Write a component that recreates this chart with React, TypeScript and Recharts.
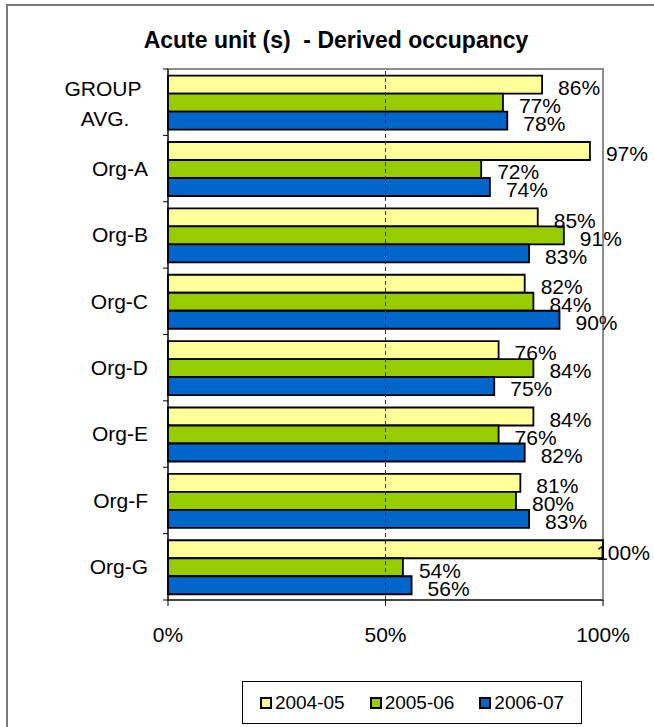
import { BarChart, Bar, XAxis, YAxis, ReferenceLine, ReferenceArea, LabelList } from "recharts";

const CATEGORIES = ["GROUP AVG.", "Org-A", "Org-B", "Org-C", "Org-D", "Org-E", "Org-F", "Org-G"];
const Y2004 = [86, 97, 85, 82, 76, 84, 81, 100];
const Y2005 = [77, 72, 91, 84, 84, 76, 80, 54];
const Y2006 = [78, 74, 83, 90, 75, 82, 83, 56];
const SERIES = [
    { key: "y2004", name: "2004-05", color: "#FFFF99" },
    { key: "y2005", name: "2005-06", color: "#99CC00" },
    { key: "y2006", name: "2006-07", color: "#0066CC" },
];
const X_TICKS = [0, 50, 100];

const data = CATEGORIES.map((name, i) => ({
    name,
    y2004: Y2004[i],
    y2005: Y2005[i],
    y2006: Y2006[i],
}));

const FONT = "'Liberation Sans', Arial, sans-serif";
const FS = 21;

function CategoryTick(props: any) {
    const { x, y, payload, index, visibleTicksCount } = props;
    const axisX = x + 20;
    const half = payload && payload.offset ? payload.offset : 33;
    const label: string = payload.value;
    const isLast = index === (visibleTicksCount ?? CATEGORIES.length) - 1;
    return (
        <g>
            <line x1={axisX - 5} y1={y - half} x2={axisX} y2={y - half} stroke="#000" strokeWidth={1} />
            {isLast && <line x1={axisX - 5} y1={y + half} x2={axisX} y2={y + half} stroke="#000" strokeWidth={1} />}
            {label === "GROUP AVG." ? (
                <g>
                    <text x={axisX - 65} y={y - 14} dy="0.35em" textAnchor="middle" fontSize={FS} fill="#000" fontFamily={FONT}>GROUP</text>
                    <text x={axisX - 63} y={y + 16} dy="0.35em" textAnchor="middle" fontSize={FS} fill="#000" fontFamily={FONT}>AVG.</text>
                </g>
            ) : (
                <text x={x} y={y} dy="0.35em" textAnchor="end" fontSize={FS} fill="#000" fontFamily={FONT}>{label}</text>
            )}
        </g>
    );
}

function ValueLabel(props: any) {
    const vb = props.viewBox || {};
    const bx = props.x ?? vb.x;
    const by = props.y ?? vb.y;
    const bw = props.width ?? vb.width;
    const bh = props.height ?? vb.height;
    const text = `${props.value}%`;
    const w = (text.length - 1) * 11.7 + 18.7;
    const lx = Math.min(bx + bw + 16, 650 - w);
    return (
        <text x={lx} y={by + bh / 2 + 3} dy="0.35em" fontSize={FS} fill="#000" fontFamily={FONT}>
            {text}
        </text>
    );
}

export default function App() {
    return (
        <div style={{ position: "fixed", left: 0, top: 0, width: 654, height: 727, overflow: "hidden", background: "#fff", fontFamily: FONT }}>
            <div style={{ position: "absolute", left: 6, top: 4, width: 720, height: 800, border: "2px solid #7a7a7a" }} />
            <div style={{ position: "absolute", left: 0, top: 25, width: 672, textAlign: "center", fontSize: 23, fontWeight: "bold", lineHeight: "30px" }}>
                Acute unit (s)&nbsp; - Derived occupancy
            </div>
            <div style={{ position: "absolute", left: 0, top: 0 }}>
                <BarChart
                    width={654}
                    height={727}
                    data={data}
                    layout="vertical"
                    margin={{ top: 69, right: 51, left: 0, bottom: 0 }}
                    barCategoryGap="10%"
                    barGap={0}
                >
                    <ReferenceArea x1={0} x2={100} stroke="#8c8c8c" strokeWidth={2} fill="#fff" fillOpacity={0} />
                    <ReferenceLine x={50} stroke="#333" strokeDasharray="4 3" />
                    <XAxis
                        type="number"
                        domain={[0, 100]}
                        ticks={X_TICKS}
                        tickFormatter={(v) => `${v}%`}
                        height={127}
                        tickSize={6}
                        tickMargin={21}
                        axisLine={{ stroke: "#000" }}
                        tickLine={{ stroke: "#000" }}
                        tick={{ fontSize: FS, fill: "#000", fontFamily: FONT }}
                    />
                    <YAxis
                        type="category"
                        dataKey="name"
                        width={168}
                        tickSize={5}
                        tickMargin={15}
                        tickLine={false}
                        axisLine={{ stroke: "#000" }}
                        tick={<CategoryTick />}
                        interval={0}
                    />
                    {SERIES.map((s) => (
                        <Bar key={s.key} dataKey={s.key} name={s.name} fill={s.color} stroke="#000" strokeWidth={1.8} isAnimationActive={false}>
                            <LabelList dataKey={s.key} content={<ValueLabel />} />
                        </Bar>
                    ))}
                </BarChart>
            </div>
            <div
                style={{
                    position: "absolute",
                    left: 242,
                    top: 681,
                    width: 338,
                    height: 41,
                    border: "1px solid #000",
                    display: "flex",
                    alignItems: "center",
                    justifyContent: "center",
                    gap: 25,
                    fontSize: 19,
                }}
            >
                {SERIES.map((s) => (
                    <div key={s.key} style={{ display: "flex", alignItems: "center" }}>
                        <span style={{ display: "inline-block", width: 8, height: 8, background: s.color, border: "2px solid #000", marginRight: 3 }} />
                        <span>{s.name}</span>
                    </div>
                ))}
            </div>
        </div>
    );
}
